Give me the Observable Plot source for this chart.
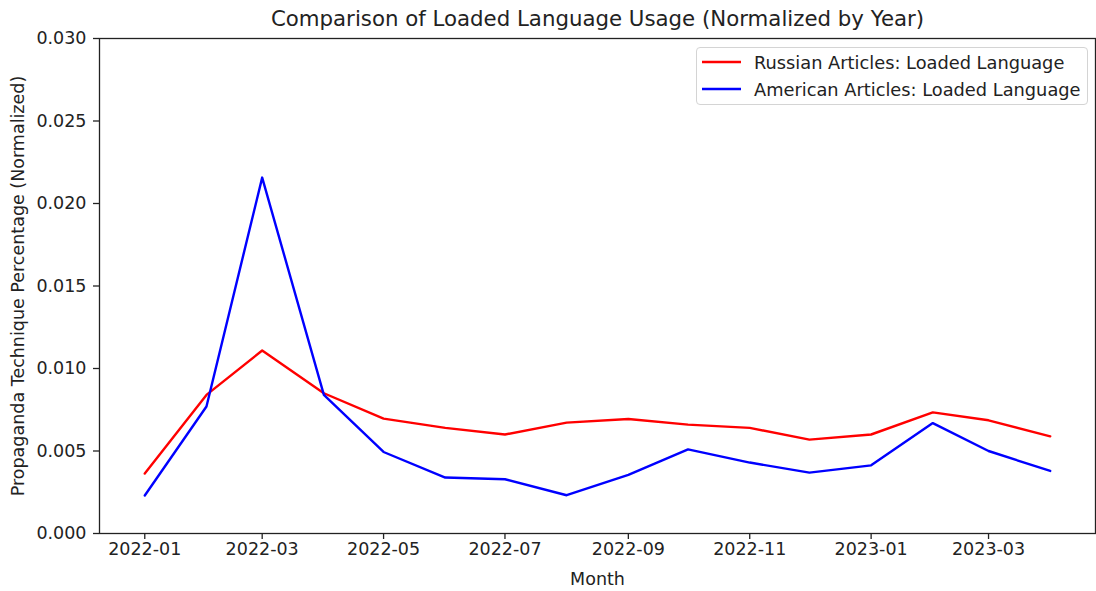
<!DOCTYPE html>
<html>
<head>
<meta charset="utf-8">
<script src="https://cdn.jsdelivr.net/npm/d3@7"></script>
<script src="https://cdn.jsdelivr.net/npm/@observablehq/plot@0.6"></script>
<style>
  html, body { margin: 0; padding: 0; background: #fff; }
  #wrap { position: relative; width: 1096px; height: 591px; font-family: "DejaVu Sans", sans-serif; color: #222; }
  #legend {
    position: absolute; left: 696px; top: 47px; width: 392px; height: 58px;
    border: 1px solid #d4d4d4; border-radius: 4px; background: rgba(255,255,255,0.8);
    box-sizing: border-box;
  }
  #legend .row { position: absolute; left: 0; height: 20px; display: flex; align-items: center; }
  #legend .row svg { margin-left: 5px; }
  #legend .row span { margin-left: 13px; font-size: 17.8px; white-space: nowrap; }
</style>
</head>
<body>
<div id="wrap">
  <div id="chart"></div>
  <div id="legend"></div>
</div>
<script>
// Monthly share of the "Loaded Language" technique, normalized by year
const months = ["2022-01","2022-02","2022-03","2022-04","2022-05","2022-06","2022-07","2022-08",
                "2022-09","2022-10","2022-11","2022-12","2023-01","2023-02","2023-03","2023-04"];
const russian = [0.00363, 0.0084, 0.01109, 0.0085, 0.00696, 0.0064, 0.0060, 0.00672,
                 0.00694, 0.0066, 0.0064, 0.00569, 0.0060, 0.00734, 0.00686, 0.00589];
const american = [0.0023, 0.0077, 0.02157, 0.0084, 0.00494, 0.00339, 0.00329, 0.00232,
                  0.00355, 0.0051, 0.0043, 0.00369, 0.00413, 0.00669, 0.0050, 0.00379];
const seriesNames = ["Russian Articles: Loaded Language", "American Articles: Loaded Language"];
const seriesColors = ["#ff0000", "#0000ff"];
const xTickLabels = ["2022-01","2022-03","2022-05","2022-07","2022-09","2022-11","2023-01","2023-03"];
const yTicks = [0, 0.005, 0.010, 0.015, 0.020, 0.025, 0.030];

const parseMonth = d3.utcParse("%Y-%m");
const rows = [];
months.forEach((m, i) => {
  rows.push({date: parseMonth(m), value: russian[i], series: seriesNames[0]});
  rows.push({date: parseMonth(m), value: american[i], series: seriesNames[1]});
});

// 5% padding on both ends of the time axis
const t0 = parseMonth(months[0]), t1 = parseMonth(months[months.length - 1]);
const pad = (t1 - t0) * 0.05;
const xDomain = [new Date(+t0 - pad), new Date(+t1 + pad)];

const ink = "#222";
const chart = Plot.plot({
  width: 1096,
  height: 591,
  marginTop: 38,
  marginBottom: 58,
  marginLeft: 99,
  marginRight: 1,
  style: {fontFamily: "DejaVu Sans, sans-serif", fontSize: "17.5px", color: ink, background: "#fff"},
  x: {type: "utc", domain: xDomain},
  y: {domain: [0, 0.030]},
  color: {domain: seriesNames, range: seriesColors},
  marks: [
    Plot.line(rows.filter(d => d.series === seriesNames[0]), {x: "date", y: "value", stroke: "series", strokeWidth: 2.4}),
    Plot.line(rows.filter(d => d.series === seriesNames[1]), {x: "date", y: "value", stroke: "series", strokeWidth: 2.4}),
    Plot.frame({stroke: ink, strokeWidth: 1.3}),
    Plot.axisX({
      ticks: xTickLabels.map(parseMonth),
      tickFormat: d3.utcFormat("%Y-%m"),
      tickSize: 6, tickPadding: 3, label: null, stroke: ink, strokeWidth: 1.3, fill: ink, fontSize: 17.5
    }),
    Plot.axisY({
      ticks: yTicks,
      tickFormat: d3.format(".3f"),
      tickSize: 6, tickPadding: 7, label: null, stroke: ink, strokeWidth: 1.3, fill: ink, fontSize: 17.5
    }),
    Plot.text(["Comparison of Loaded Language Usage (Normalized by Year)"],
      {frameAnchor: "top", lineAnchor: "middle", dy: -19, fontSize: 21.3, fill: ink}),
    Plot.text(["Month"], {frameAnchor: "bottom", lineAnchor: "middle", dy: 46, fontSize: 17.5, fill: ink}),
    Plot.text(["Propaganda Technique Percentage (Normalized)"],
      {frameAnchor: "left", textAnchor: "middle", lineAnchor: "middle", dx: -81, rotate: -90, fontSize: 17.5, fill: ink})
  ]
});
document.getElementById("chart").appendChild(chart);

// Legend box in the upper right corner
const legend = document.getElementById("legend");
seriesNames.forEach((name, i) => {
  const row = document.createElement("div");
  row.className = "row";
  row.style.top = (4 + i * 27) + "px";
  row.innerHTML = `<svg width="39" height="4"><line x1="0" x2="39" y1="2" y2="2" stroke="${seriesColors[i]}" stroke-width="2.4"/></svg><span>${name}</span>`;
  legend.appendChild(row);
});
</script>
</body>
</html>
